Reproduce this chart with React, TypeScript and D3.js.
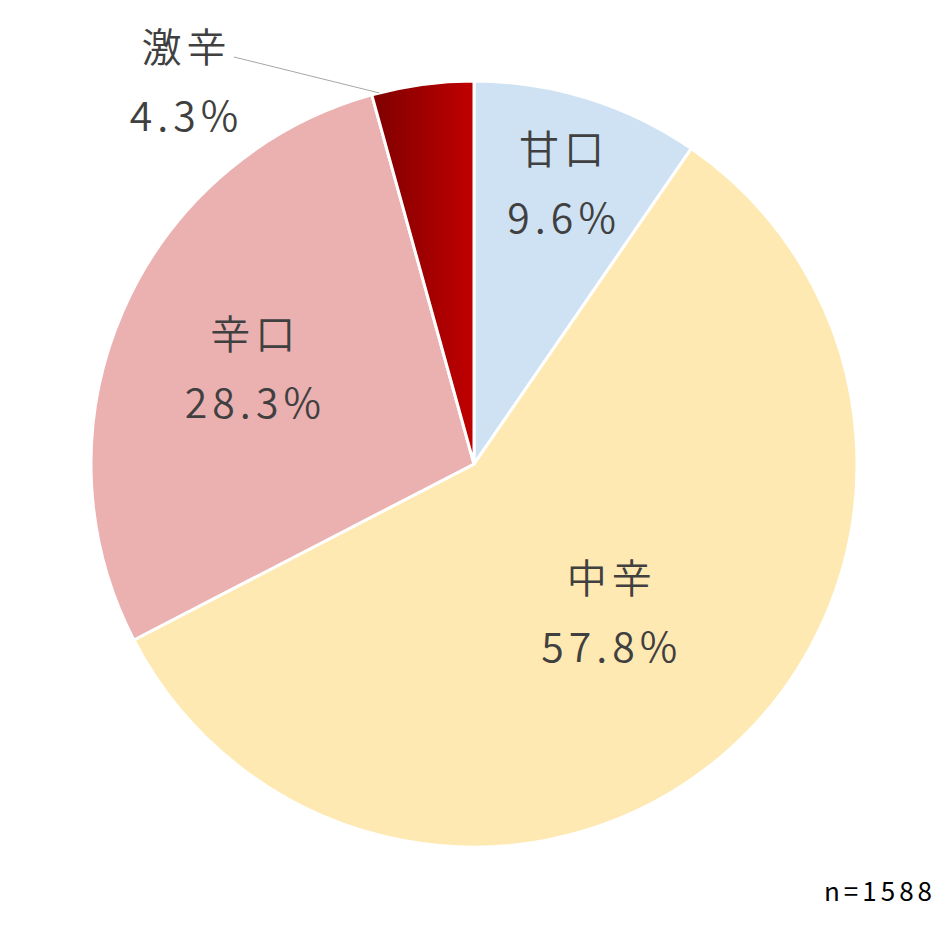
import * as d3 from "d3";

const categories = ["甘口", "中辛", "辛口", "激辛"];
const shares = [9.6, 57.8, 28.3, 4.3];
const colors = ["#CFE2F3", "#FEE9B2", "#EBB1B1", "url(#hotGrad)"];
// how far from the centre each label sits, as a share of the radius
const labelFactor = [0.77, 0.51, 0.63, 1.22];
const sampleNote = "n=1588";

const width = 950;
const height = 929;
const cx = 474;
const cy = 464;
const radius = 383;

const App = () => {
  const pie = d3
    .pie<number>()
    .sort(null)
    .value((d) => d);
  const arcs = pie(shares);
  const arc = d3.arc<d3.PieArcDatum<number>>().innerRadius(0).outerRadius(radius);

  const font = "'Noto Sans CJK JP', 'Noto Sans', sans-serif";
  const spacing = 5;

  return (
    <svg
      width={width}
      height={height}
      style={{ position: "absolute", left: 0, top: 0 }}
    >
      <defs>
        <linearGradient id="hotGrad" x1="0" x2="1" y1="0" y2="0">
          <stop offset="0%" stopColor="#7E0000" />
          <stop offset="100%" stopColor="#C00000" />
        </linearGradient>
      </defs>
      <rect width={width} height={height} fill="#fff" />
      <g transform={`translate(${cx},${cy})`}>
        {arcs.map((a, i) => (
          <path
            key={categories[i]}
            d={arc(a) ?? ""}
            fill={colors[i]}
            stroke="#fff"
            strokeWidth={3}
          />
        ))}
        {arcs.map((a, i) => {
          const mid = (a.startAngle + a.endAngle) / 2;
          const r = radius * labelFactor[i];
          let x = Math.sin(mid) * r + (i === 1 ? 6 : 0);
          let y = -Math.cos(mid) * r;
          const outside = labelFactor[i] > 1;
          if (outside) {
            x = -290;
            y = -384;
          }
          return (
            <g key={"l" + i}>
              {outside && (
                <line
                  x1={-240}
                  y1={-407}
                  x2={Math.sin(a.startAngle + 0.02) * radius}
                  y2={-Math.cos(a.startAngle + 0.02) * radius}
                  stroke="#A6A6A6"
                  strokeWidth={1}
                />
              )}
              <text
                x={x + spacing / 2}
                y={y - 35}
                textAnchor="middle"
                dominantBaseline="central"
                fontFamily={font}
                fontSize={40}
                fontWeight={350}
                fill="#404040"
                letterSpacing={spacing}
              >
                {categories[i]}
              </text>
              <text
                x={x + spacing / 2}
                y={y + 33}
                textAnchor="middle"
                dominantBaseline="central"
                fontFamily={font}
                fontSize={41}
                fontWeight={350}
                fill="#404040"
                letterSpacing={spacing}
              >
                {shares[i].toFixed(1)}%
              </text>
            </g>
          );
        })}
      </g>
      <text
        x={936}
        y={889}
        textAnchor="end"
        dominantBaseline="central"
        fontFamily={font}
        fontSize={26}
        fill="#000"
        letterSpacing={4}
      >
        {sampleNote}
      </text>
    </svg>
  );
};

export default App;
